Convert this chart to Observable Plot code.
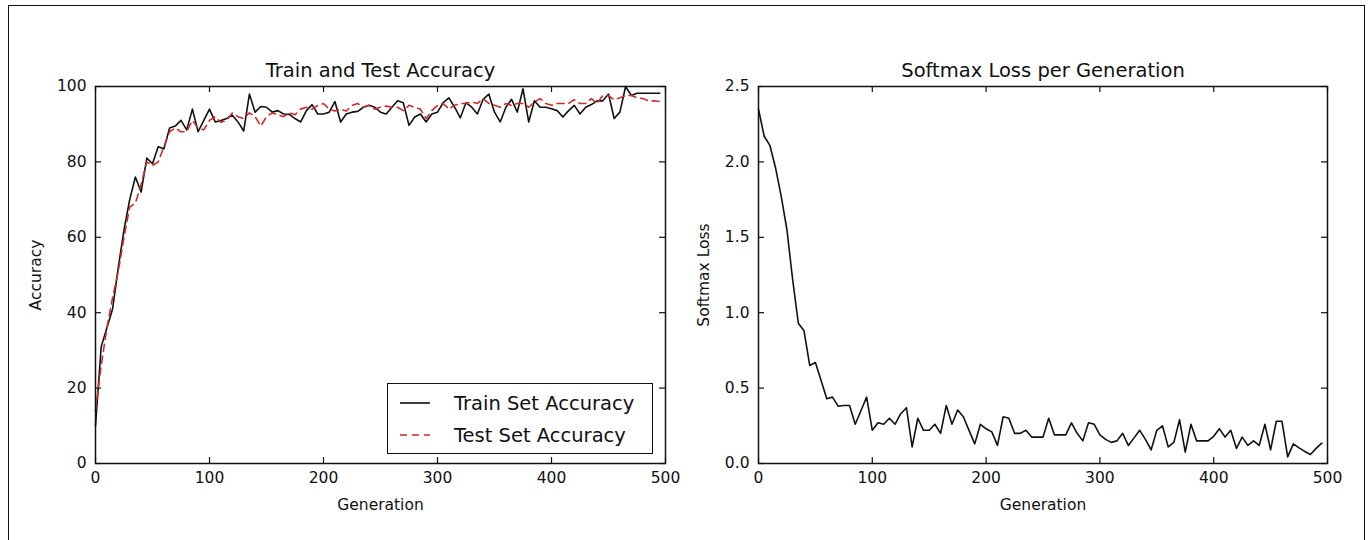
<!DOCTYPE html>
<html><head><meta charset="utf-8">
<script src="https://cdn.jsdelivr.net/npm/d3@7"></script>
<script src="https://cdn.jsdelivr.net/npm/@observablehq/plot@0.6"></script>
<style>
html,body{margin:0;padding:0;background:#fff;}
body{width:1369px;height:540px;overflow:hidden;position:relative;font-family:"DejaVu Sans",sans-serif;}
#frame{position:absolute;left:8px;top:5px;width:1357px;height:560px;border:1.5px solid #111;box-sizing:border-box;}
.panel{position:absolute;top:0;}
#legend{position:absolute;left:387px;top:383px;width:266px;height:71px;border:1.5px solid #111;box-sizing:border-box;background:#fff;font-size:19.5px;color:#111;}
#legend .row{position:absolute;left:0;height:30px;display:flex;align-items:center;}
#legend svg{margin-left:12px;margin-right:24px;}
</style></head><body>
<div id="frame"></div>
<div id="left" class="panel" style="left:0px"></div>
<div id="right" class="panel" style="left:700px"></div>
<div id="legend"></div>
<script>
const generations = [0,5,10,15,20,25,30,35,40,45,50,55,60,65,70,75,80,85,90,95,
100,105,110,115,120,125,130,135,140,145,150,155,160,165,170,175,180,185,190,195,
200,205,210,215,220,225,230,235,240,245,250,255,260,265,270,275,280,285,290,295,
300,305,310,315,320,325,330,335,340,345,350,355,360,365,370,375,380,385,390,395,
400,405,410,415,420,425,430,435,440,445,450,455,460,465,470,475,480,485,490,495];

const trainAccuracy = [10,31,36,41,52,62,70,76,72,81,79.5,84,83.5,89,89.5,91,88.5,94,88,91,
94,90.6,91,91.5,92.4,90.6,88.2,98,93.2,94.7,94.5,93.2,93.6,92.7,92.6,91.5,90.6,93.6,95.2,92.7,
92.7,93.2,96,90.6,92.7,93.2,93.4,94.5,95,94.5,93.2,92.7,94.5,96.2,95.7,89.7,91.9,92.7,90.6,92.7,
93.2,95.7,97,94.5,91.7,95.7,94.5,92.7,96.6,98,93.2,90.6,94.5,96.6,93.2,99.4,90.6,96.2,94.5,94.5,
94.1,93.6,91.9,93.6,95,92.7,94.5,95.2,96.2,96.2,98,91.5,93.2,100,97.6,98.2,98.2,98.2,98.2,98.2];

const testAccuracy = [14,26,36,44,51,60,68,69,74,80,79,80,84,88,89,88,88,91,89,88.5,
91,92,90.5,91,93,92,91.5,93,92,89.5,92,93,92.5,92,93,92.5,94,94.5,94,95,
95.5,94,93.5,94,93.5,95,95.5,94.5,95,94,94.5,94.8,94.5,94.5,93.6,95,94.5,94,91.5,93.6,
95,95.5,94,95,95.5,95.5,95.9,95.5,96.8,95.5,95,94.5,95.5,95,95.5,95.5,94.5,95.9,96.8,95.5,
95,95.5,95.5,95.5,96.5,95.5,95.5,96.8,95.5,97.6,97.6,96.5,97,97.6,97.6,97,96.8,96.2,96.2,96];

const softmaxLoss = [2.35,2.17,2.11,1.96,1.77,1.55,1.22,0.93,0.88,0.65,0.67,0.55,0.43,0.44,0.38,0.385,0.385,0.26,0.35,0.44,
0.22,0.27,0.26,0.30,0.26,0.33,0.37,0.11,0.30,0.22,0.22,0.26,0.20,0.385,0.26,0.355,0.31,0.22,0.13,0.26,
0.23,0.21,0.12,0.31,0.30,0.20,0.20,0.22,0.175,0.175,0.175,0.30,0.19,0.19,0.19,0.27,0.20,0.15,0.27,0.26,
0.19,0.16,0.14,0.15,0.20,0.12,0.17,0.22,0.16,0.09,0.22,0.25,0.11,0.14,0.29,0.075,0.26,0.15,0.15,0.15,
0.18,0.23,0.175,0.22,0.10,0.175,0.12,0.15,0.12,0.26,0.09,0.28,0.28,0.044,0.13,0.104,0.08,0.06,0.10,0.135];

const genTicks = [0,100,200,300,400,500];
const accTicks = [0,20,40,60,80,100];
const lossTicks = [0,0.5,1.0,1.5,2.0,2.5];
const titles = ["Train and Test Accuracy", "Softmax Loss per Generation"];
const axisLabels = {x: "Generation", accuracy: "Accuracy", loss: "Softmax Loss"};
const seriesNames = ["Train Set Accuracy", "Test Set Accuracy"];

const accData = generations.map((g, i) => ({gen: g, train: trainAccuracy[i], test: testAccuracy[i]}));
const lossData = generations.map((g, i) => ({gen: g, loss: softmaxLoss[i]}));

const H = 540, MT = 86, MB = 77;
const plotH = H - MT - MB;
const TICK = 6;
const RED = "#d02a2a";
const baseStyle = {fontFamily: "DejaVu Sans, sans-serif", fontSize: "15.5px", color: "#111", background: "transparent", overflow: "visible"};

function innerTicks(xt, yt, plotW) {
  return [
    Plot.ruleX(xt, {x: d => d, insetTop: plotH - TICK, stroke: "#111", strokeWidth: 1.2}),
    Plot.ruleX(xt, {x: d => d, insetBottom: plotH - TICK, stroke: "#111", strokeWidth: 1.2}),
    Plot.ruleY(yt, {y: d => d, insetRight: plotW - TICK, stroke: "#111", strokeWidth: 1.2}),
    Plot.ruleY(yt, {y: d => d, insetLeft: plotW - TICK, stroke: "#111", strokeWidth: 1.2})
  ];
}

// Left panel
{
  const W = 700, ML = 95, MR = 35, plotW = W - ML - MR;
  const p = Plot.plot({
    width: W, height: H, marginLeft: ML, marginRight: MR, marginTop: MT, marginBottom: MB,
    style: baseStyle,
    x: {domain: [0, 500]},
    y: {domain: [0, 100]},
    marks: [
      Plot.axisX(genTicks, {tickSize: 0, tickPadding: 8, label: axisLabels.x, labelAnchor: "center", labelOffset: 46, labelArrow: "none"}),
      Plot.axisY(accTicks, {tickSize: 0, tickPadding: 9, label: axisLabels.accuracy, labelAnchor: "center", labelOffset: 66, labelArrow: "none"}),
      ...innerTicks(genTicks, accTicks, plotW),
      Plot.line(accData, {x: "gen", y: "train", stroke: "#111", strokeWidth: 1.6}),
      Plot.line(accData, {x: "gen", y: "test", stroke: RED, strokeWidth: 1.6, strokeDasharray: "7,5"}),
      Plot.frame({stroke: "#111", strokeWidth: 1.5}),
      Plot.text([titles[0]], {text: d => d, frameAnchor: "top", lineAnchor: "middle", dy: -16, fontSize: 19.5, fill: "#111"})
    ]
  });
  document.getElementById("left").appendChild(p);
}

// Right panel
{
  const W = 669, ML = 58, MR = 42, plotW = W - ML - MR;
  const p = Plot.plot({
    width: W, height: H, marginLeft: ML, marginRight: MR, marginTop: MT, marginBottom: MB,
    style: baseStyle,
    x: {domain: [0, 500]},
    y: {domain: [0, 2.5]},
    marks: [
      Plot.axisX(genTicks, {tickSize: 0, tickPadding: 8, label: axisLabels.x, labelAnchor: "center", labelOffset: 46, labelArrow: "none"}),
      Plot.axisY(lossTicks, {tickSize: 0, tickPadding: 9, tickFormat: d3.format(".1f"), label: axisLabels.loss, labelAnchor: "center", labelOffset: 61, labelArrow: "none"}),
      ...innerTicks(genTicks, lossTicks, plotW),
      Plot.line(lossData, {x: "gen", y: "loss", stroke: "#111", strokeWidth: 1.6}),
      Plot.frame({stroke: "#111", strokeWidth: 1.5}),
      Plot.text([titles[1]], {text: d => d, frameAnchor: "top", lineAnchor: "middle", dy: -16, fontSize: 19.5, fill: "#111"})
    ]
  });
  document.getElementById("right").appendChild(p);
}

// Legend
{
  const lg = document.getElementById("legend");
  const styles = [{stroke: "#111", dash: ""}, {stroke: RED, dash: "7,5"}];
  const tops = [4, 36];
  seriesNames.forEach((name, i) => {
    const row = document.createElement("div");
    row.className = "row";
    row.style.top = tops[i] + "px";
    row.innerHTML = `<svg width="30" height="10"><line x1="0" y1="5" x2="30" y2="5" stroke="${styles[i].stroke}" stroke-width="1.6" stroke-dasharray="${styles[i].dash}"/></svg><span>${name}</span>`;
    lg.appendChild(row);
  });
}
</script>
</body></html>
